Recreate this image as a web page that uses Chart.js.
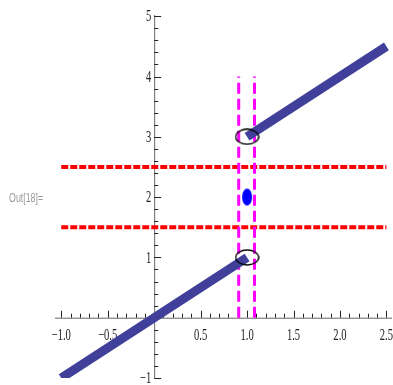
<!DOCTYPE html>
<html>
<head>
<meta charset="utf-8">
<script src="https://cdn.jsdelivr.net/npm/chart.js@4/dist/chart.umd.min.js"></script>
<style>
  html, body { margin: 0; padding: 0; background: #fff; }
  canvas { display: block; }
</style>
</head>
<body>
<canvas id="plot" width="393" height="385"></canvas>
<script>
// piecewise line: two pieces with a jump at x = 1
const lowerX = [-1, 1];
const lowerY = [-1, 1];
const upperX = [1, 2.5];
const upperY = [3, 4.5];

// open ends and the isolated value at x = 1
const holeX = [1, 1];
const holeY = [1, 3];
const dotX = [1];
const dotY = [2];

// red band (horizontal) and magenta strip (vertical)
const bandY = [1.5, 2.5];
const bandSpanX = [-1, 2.5];
const stripX = [0.91, 1.08];
const stripSpanY = [0, 4];

// axis ticks
const xTickValues = [-1, -0.5, 0.5, 1, 1.5, 2, 2.5];
const xTickLabels = ["\u22121.0", "\u22120.5", "0.5", "1.0", "1.5", "2.0", "2.5"];
const yTickValues = [-1, 1, 2, 3, 4, 5];
const yTickLabels = ["\u22121", "1", "2", "3", "4", "5"];
const xMinorStep = 0.1;
const yMinorStep = 0.2;

const lineBlue = "#40409a";

const toPoints = (xs, ys) => xs.map((x, i) => ({ x, y: ys[i] }));

const ellipseStyle = (w, h, fill, stroke) => {
  const c = document.createElement("canvas");
  c.width = w + 2;
  c.height = h + 2;
  const g = c.getContext("2d");
  g.beginPath();
  g.ellipse(c.width / 2, c.height / 2, w / 2, h / 2, 0, 0, Math.PI * 2);
  if (fill) { g.fillStyle = fill; g.fill(); }
  if (stroke) { g.strokeStyle = stroke; g.lineWidth = 1.3; g.stroke(); }
  return c;
};

const squeezedText = (ctx, text, x, y, sx, align) => {
  ctx.save();
  ctx.translate(x, y);
  ctx.scale(sx, 1);
  ctx.textAlign = align;
  ctx.fillText(text, 0, 0);
  ctx.restore();
};

const mathAxes = {
  id: "mathAxes",
  beforeDatasetsDraw(chart) {
    const { ctx, chartArea, scales } = chart;
    const xs = scales.x, ys = scales.y;
    const x0 = xs.getPixelForValue(0);
    const y0 = ys.getPixelForValue(0);
    ctx.save();
    ctx.strokeStyle = "#666";
    ctx.lineWidth = 1;
    ctx.beginPath();
    ctx.moveTo(chartArea.left - 3, y0 + 0.5);
    ctx.lineTo(chartArea.right, y0 + 0.5);
    ctx.moveTo(x0 + 0.5, chartArea.top);
    ctx.lineTo(x0 + 0.5, chartArea.bottom);
    ctx.stroke();

    ctx.strokeStyle = "#222";
    ctx.beginPath();
    for (let v = -1; v <= 2.5001; v += xMinorStep) {
      const r = Math.round(v * 10) / 10;
      if (Math.abs(r) < 1e-9) continue;
      const px = Math.round(xs.getPixelForValue(r)) + 0.5;
      const len = Math.abs(r * 2 - Math.round(r * 2)) < 1e-9 ? 7 : 4;
      ctx.moveTo(px, y0);
      ctx.lineTo(px, y0 - len);
    }
    for (let v = -1; v <= 5.0001; v += yMinorStep) {
      const r = Math.round(v * 10) / 10;
      if (Math.abs(r) < 1e-9) continue;
      const py = Math.round(ys.getPixelForValue(r)) + 0.5;
      const len = Math.abs(r - Math.round(r)) < 1e-9 ? 7 : 4;
      ctx.moveTo(x0, py);
      ctx.lineTo(x0 + len, py);
    }
    ctx.stroke();

    ctx.fillStyle = "#222";
    ctx.font = '16px "Liberation Serif", "Times New Roman", serif';
    ctx.textBaseline = "middle";
    xTickValues.forEach((v, i) => {
      squeezedText(ctx, xTickLabels[i], xs.getPixelForValue(v), y0 + 18, 0.66, "center");
    });
    yTickValues.forEach((v, i) => {
      squeezedText(ctx, yTickLabels[i], x0 - 3, ys.getPixelForValue(v) + 1, 0.66, "right");
    });

    ctx.fillStyle = "#999";
    ctx.font = '13px "Liberation Sans", Arial, sans-serif';
    squeezedText(ctx, "Out[18]=", 9, 198, 0.68, "left");
    ctx.restore();
  },
};

const dashedH = bandY.map((y) => ({
  data: toPoints(bandSpanX, [y, y]),
  borderColor: "#ff0000",
  borderWidth: 4,
  borderDash: [7, 2],
  pointRadius: 0,
  order: 5,
}));

const dashedV = stripX.map((x) => ({
  data: toPoints([x, x], stripSpanY),
  borderColor: "#ff00ff",
  borderWidth: 3,
  borderDash: [11, 5],
  pointRadius: 0,
  order: 4,
}));

new Chart(document.getElementById("plot"), {
  type: "line",
  data: {
    datasets: [
      ...dashedH,
      ...dashedV,
      {
        data: toPoints(lowerX, lowerY),
        borderColor: lineBlue,
        borderWidth: 9,
        borderCapStyle: "butt",
        pointRadius: 0,
        order: 3,
      },
      {
        data: toPoints(upperX, upperY),
        borderColor: lineBlue,
        borderWidth: 9,
        borderCapStyle: "butt",
        pointRadius: 0,
        order: 3,
      },
      {
        data: toPoints(holeX, holeY),
        showLine: false,
        pointStyle: ellipseStyle(23, 15, null, "#000"),
        order: 2,
      },
      {
        data: toPoints(dotX, dotY),
        showLine: false,
        pointStyle: ellipseStyle(10, 17, "#0000ff", null),
        order: 1,
      },
    ],
  },
  options: {
    responsive: false,
    animation: false,
    devicePixelRatio: 1,
    layout: { autoPadding: false, padding: { left: 58, right: 1, top: 15, bottom: 7 } },
    plugins: { legend: { display: false }, tooltip: { enabled: false } },
    scales: {
      x: { type: "linear", min: -1.035, max: 2.56, display: false },
      y: { type: "linear", min: -1, max: 5.02, display: false },
    },
  },
  plugins: [mathAxes],
});
</script>
</body>
</html>
